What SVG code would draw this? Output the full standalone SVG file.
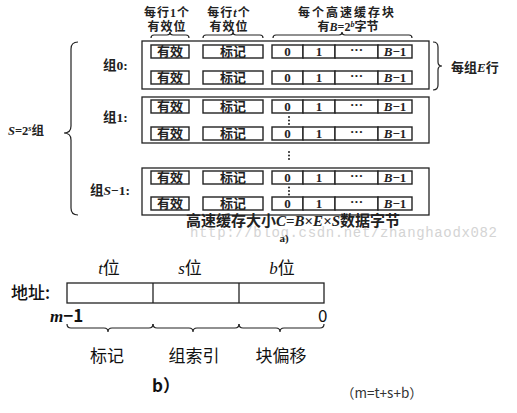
<svg xmlns="http://www.w3.org/2000/svg" width="517" height="413" viewBox="0 0 517 413">
<defs>
<style>
.bg{fill:#fff}
.box{fill:none;stroke:#222;stroke-width:1.3}
.cell{fill:#fff;stroke:#222;stroke-width:1.4}
.br{fill:none;stroke:#222;stroke-width:1.2}
.ta{font-family:"Liberation Serif","Noto Sans CJK SC",serif;font-weight:bold;fill:#222}
.th{font-family:"Liberation Serif","Noto Sans CJK SC",serif;font-weight:bold;font-size:12px;fill:#222;text-anchor:middle}
.tc{font-family:"Liberation Serif","Noto Sans CJK SC",serif;font-weight:bold;font-size:13px;fill:#222;text-anchor:middle}
.tb{font-family:"Noto Sans CJK SC","Liberation Sans",sans-serif;font-size:17px;fill:#111}
.it{font-style:italic;font-family:"Liberation Serif",serif}
.dot{fill:#222}
.wm{font-family:"Liberation Mono",monospace;font-size:14px;fill:#d4d4d4}
</style>
<g id="rowTpl">
<rect class="cell" x="151" y="0" width="38" height="13"/>
<text class="tc" x="170" y="11">有效</text>
<rect class="cell" x="203" y="0" width="60" height="13"/>
<text class="tc" x="233" y="11">标记</text>
<rect class="cell" x="272" y="0" width="31" height="13"/>
<text class="tc" x="287.5" y="10.5">0</text>
<rect class="cell" x="303" y="0" width="32" height="13"/>
<text class="tc" x="319" y="10.5">1</text>
<rect class="cell" x="335" y="0" width="43" height="13"/>
<text class="tc" x="356.5" y="9">···</text>
<rect class="cell" x="378" y="0" width="34" height="13"/>
<text class="tc" x="395" y="10.5"><tspan class="it">B</tspan>−1</text>
</g>
</defs>
<rect class="bg" x="0" y="0" width="517" height="413"/>

<g id="headers">
<text class="th" x="167" y="17" letter-spacing="1">每行1个</text>
<text class="th" x="167" y="31" letter-spacing="1">有效位</text>
<text class="th" x="229" y="17" letter-spacing="1">每行<tspan class="it">t</tspan>个</text>
<text class="th" x="229" y="31" letter-spacing="1">有效位</text>
<text class="th" x="347" y="17" letter-spacing="2">每个高速缓存块</text>
<text class="th" x="348" y="31">有<tspan class="it">B</tspan>=2<tspan class="it" font-size="8" dy="-4">b</tspan><tspan dy="4">字节</tspan></text>
</g>

<g id="group0">
<rect class="box" x="142" y="41" width="287" height="48"/>
<use href="#rowTpl" y="45"/>
<use href="#rowTpl" y="71"/>
<text class="ta" font-size="13.5" x="103" y="70">组0:</text>
</g>

<g id="group1">
<rect class="box" x="142" y="97" width="287" height="46"/>
<use href="#rowTpl" y="100"/>
<use href="#rowTpl" y="127"/>
<circle class="dot" cx="289" cy="117" r="1"/>
<circle class="dot" cx="289" cy="120.5" r="1"/>
<circle class="dot" cx="289" cy="124" r="1"/>
<text class="ta" font-size="13.5" x="103" y="122">组1:</text>
</g>

<g id="gap">
<circle class="dot" cx="289" cy="152" r="1"/>
<circle class="dot" cx="289" cy="155.5" r="1"/>
<circle class="dot" cx="289" cy="159" r="1"/>
</g>

<g id="groupS1">
<rect class="box" x="142" y="168" width="287" height="47"/>
<use href="#rowTpl" y="171"/>
<use href="#rowTpl" y="197"/>
<circle class="dot" cx="289" cy="187.5" r="1"/>
<circle class="dot" cx="289" cy="191" r="1"/>
<circle class="dot" cx="289" cy="194.5" r="1"/>
<text class="ta" font-size="13.5" x="90" y="195">组<tspan class="it">S</tspan>−1:</text>
</g>

<g id="connectors">
<path class="br" d="M151,38 q0,-3 3,-3 L167,35 q3,0 3,-3 q0,3 3,3 L186,35 q3,0 3,3"/>
<path class="br" d="M203,38 q0,-3 3,-3 L230,35 q3,0 3,-3 q0,3 3,3 L260,35 q3,0 3,3"/>
<path class="br" d="M273,38 q0,-3 3,-3 L339,35 q3,0 3,-3 q0,3 3,3 L409,35 q3,0 3,3"/>
<path class="br" d="M433,42 q5,0 5,5 L438,62 q0,4 4,4 q-4,0 -4,4 L438,85 q0,5 -5,5"/>
<path class="br" d="M78,42 q-7,0 -7,7 L71,126 q0,7 -7,7 q7,0 7,7 L71,208 q0,7 7,7"/>
<path class="br" d="M67,324 q0,4 4,4 L104,328 q4,0 4,4 q0,-4 4,-4 L149,328 q4,0 4,-4"/>
<path class="br" d="M153,324 q0,4 4,4 L189,328 q4,0 4,4 q0,-4 4,-4 L235,328 q4,0 4,-4"/>
<path class="br" d="M239,324 q0,4 4,4 L276,328 q4,0 4,4 q0,-4 4,-4 L320,328 q4,0 4,-4"/>
</g>

<g id="labelsA">
<text class="ta" font-size="12.5" x="8" y="135"><tspan class="it">S</tspan>=2<tspan class="it" font-size="8" dy="-4">s</tspan><tspan dy="4">组</tspan></text>
<text class="ta" font-size="13" x="451" y="72">每组<tspan class="it">E</tspan>行</text>
<text class="wm" x="190" y="237" textLength="307">http://blog.csdn.net/zhanghaodx082</text>
<text class="ta" font-size="15" x="293" y="226" text-anchor="middle">高速缓存大小<tspan class="it">C</tspan>=<tspan class="it">B</tspan>×<tspan class="it">E</tspan>×<tspan class="it">S</tspan>数据字节</text>
<text class="ta" font-size="11" x="284" y="242" text-anchor="middle">a)</text>
</g>

<g id="addressBar">
<rect class="box" x="67" y="283" width="257" height="20"/>
<line class="box" x1="153" y1="283" x2="153" y2="303"/>
<line class="box" x1="239" y1="283" x2="239" y2="303"/>
<text class="tb" x="11" y="299" font-weight="500">地址:</text>
<text class="tb" x="109" y="274" text-anchor="middle"><tspan class="it">t</tspan>位</text>
<text class="tb" x="190" y="274" text-anchor="middle"><tspan class="it">s</tspan>位</text>
<text class="tb" x="282" y="274" text-anchor="middle"><tspan class="it">b</tspan>位</text>
<text class="tb" x="50" y="322" font-family="Liberation Serif,serif" font-weight="bold"><tspan class="it">m</tspan>−1</text>
<text class="tb" x="318" y="322" font-family="Liberation Serif,serif">0</text>
<text class="tb" x="107" y="362" text-anchor="middle">标记</text>
<text class="tb" x="194" y="362" text-anchor="middle">组索引</text>
<text class="tb" x="281" y="362" text-anchor="middle">块偏移</text>
<text class="tb" x="152" y="392" font-family="Liberation Serif,serif" font-weight="bold">b）</text>
<text x="341" y="398" font-family="'Noto Sans CJK SC','Liberation Sans',sans-serif" font-size="13.5" fill="#333">（m=t+s+b）</text>
</g>
</svg>
